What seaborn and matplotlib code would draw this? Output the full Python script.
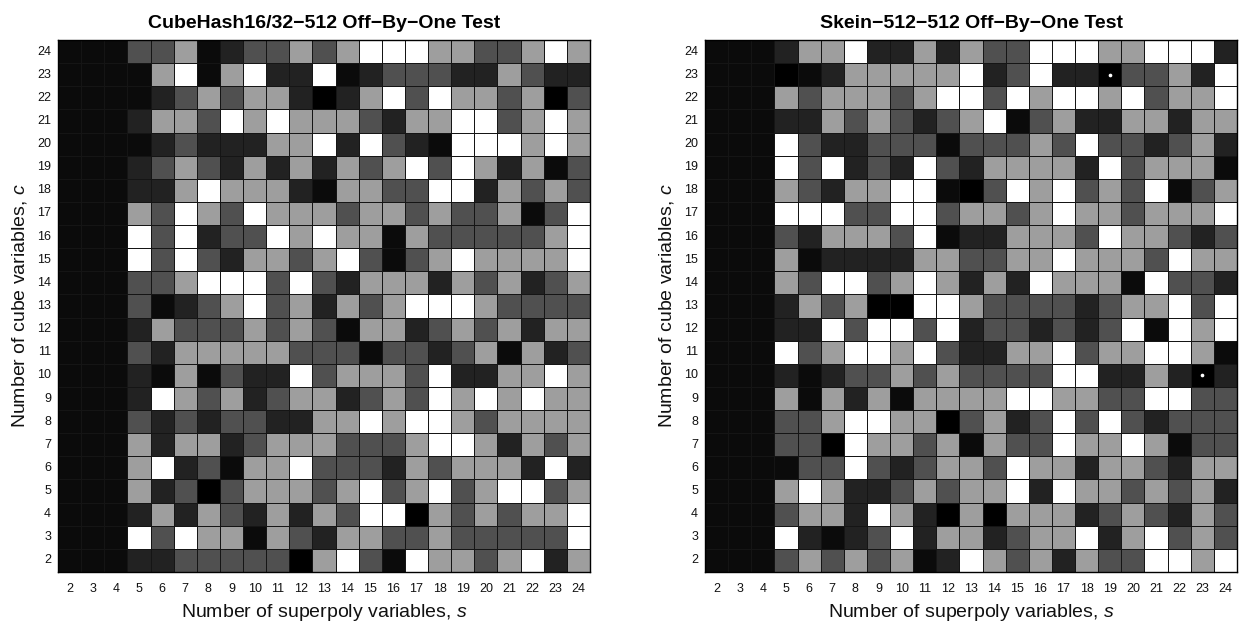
import numpy as np
import pandas as pd
import matplotlib
matplotlib.use("Agg")
import matplotlib.pyplot as plt
from matplotlib.colors import ListedColormap
import seaborn as sns

# ---------------- data ----------------
# superpoly variables s (columns) and cube variables c (rows, top to bottom)
s_values = list(range(2, 25))
c_values = list(range(24, 1, -1))

# gray level codes: K=black, B=near black, D=dark, M=mid-dark, L=light gray, W=white
level_codes = ["K", "B", "D", "M", "L", "W"]
level_colors = ["#000000", "#0b0b0b", "#222222", "#505050", "#9e9e9e", "#ffffff"]

cubehash_rows = [
    "B B B M M L B D M M L M L W W W L L M M L W L",  # 24
    "B B B B L W B L W D D W B D M M M D D L M D D",  # 23
    "B B B B D M L M L L D K D L W M W L L M L K M",  # 22
    "B B B D L L M W L W L L L M D L L W W M L W L",  # 21
    "B B B B D M D D D L L W D W M D B W W W L W L",  # 20
    "B B B D M L M D L D L D L M L W M W L D L B M",  # 19
    "B B B D D L W L L L D B L L M M W W D L M L M",  # 18
    "B B B L M W L M W L L L M L L M L M M L B M W",  # 17
    "B B B W M W D M M W L W L L B L M M M M M L W",  # 16
    "B B B W M W M D L L M L W M B M L W L L L L W",  # 15
    "B B B M M L W W W M W M D L L L D L M L D M L",  # 14
    "B B B M B D M L W M L D L M L W W W L M M M M",  # 13
    "B B B D L M M M L M L M B L L D M L M L D L L",  # 12
    "B B B M D L L L L L M M M B M M D M L B L D M",  # 11
    "B B B D B L B M D D W M L L L M W D D L L W L",  # 10
    "B B B D W L M L D M L L D M L M W L W L W L L",  # 9
    "B B B M D M D M M D D L L W L W W L M L L L L",  # 8
    "B B B L D L L D M L L L M M M L W W L D L M L",  # 7
    "B B B L W D M B L L W M M M D L M L L L D W D",  # 6
    "B B B L D M K M L L L M L W M L W M L W W M L",  # 5
    "B B B D L D L M D L D L M W W K L M L M L L W",  # 4
    "B B B W M W L L B L M D L L M M L M M M M M W",  # 3
    "B B B D D M M M M M K L W M B W L L M L W D L",  # 2
]

skein_rows = [
    "B B B D L L W D D L D L M M W W W L L W W W D",  # 24
    "B B B K B D L L L L L W D M W D D K M M L D W",  # 23
    "B B B L M L L L M L W W M W L W W L W M L L W",  # 22
    "B B B D D L M L M D M L W B M L D D L L D L L",  # 21
    "B B B W M D D M M M B M M M L M W M M D M L D",  # 20
    "B B B W M W D M D W M D L L L L D W M L L L B",  # 19
    "B B B L M D L L W W B K M W L W M L M W B M L",  # 18
    "B B B W W W M M W W M L L M L W L L M L L L W",  # 17
    "B B B M D L L L M W B D D L L L M W L L M D M",  # 16
    "B B B L B D D D D L L M M L L W L L L M W L L",  # 15
    "B B B L M W W M L W L D L D W L L L B W M M D",  # 14
    "B B B D L M L K K W W L M M M M D M L L W M W",  # 13
    "B B B D D W M W W M W D M M D M D M W B W L W",  # 12
    "B B B W M L W W L W M D D L L W M L L W W L B",  # 11
    "B B B D B D M M L M L M M M M W W D D L D K D",  # 10
    "B B B L B L D L B L L L L W W L L M M W W M M",  # 9
    "B B B M M L W W L L K M L D M W M W M D M M M",  # 8
    "B B B M M K W L L M L B L M M W L L W L B M M",  # 7
    "B B B B M M W M D M L L M W L L D L L M D L L",  # 6
    "B B B L W L D D M L M L L W D W L L M L M L D",  # 5
    "B B B M L L D W L D K L K L L L D M L M D L M",  # 4
    "B B B W D B D M W D L L D M L L W D L W M L M",  # 3
    "B B B M L M L M L B D W L M L D L M M W W L W",  # 2
]

# marked cells (white dots) in the Skein chart
skein_dot_s = [19, 23]
skein_dot_c = [23, 10]

titles = ["CubeHash16/32\u2212512 Off\u2212By\u2212One Test",
          "Skein\u2212512\u2212512 Off\u2212By\u2212One Test"]
xlabel = "Number of superpoly variables, $s$"
ylabel = "Number of cube variables, $c$"

# ---------------- build ----------------
def to_frame(rows):
    mat = []
    for r in rows:
        vals = [level_codes.index(t) for t in r.split()]
        assert len(vals) == len(s_values)
        mat.append(vals)
    assert len(mat) == len(c_values)
    return pd.DataFrame(mat, index=c_values, columns=s_values)

sns.set_theme(style="white")
plt.rcParams["font.family"] = ["Liberation Sans", "DejaVu Sans"]
plt.rcParams["mathtext.fontset"] = "custom"
plt.rcParams["mathtext.rm"] = "Liberation Sans"
plt.rcParams["mathtext.it"] = "Liberation Sans:italic"

cmap = ListedColormap(level_colors)

W, H = 1239, 622
fig = plt.figure(figsize=(W / 100, H / 100), dpi=100)
ax1 = fig.add_axes([58 / W, 50 / H, 532 / W, 532 / H])
ax2 = fig.add_axes([705 / W, 50 / H, 532 / W, 532 / H])

for ax, rows, title in [(ax1, cubehash_rows, titles[0]), (ax2, skein_rows, titles[1])]:
    df = to_frame(rows)
    sns.heatmap(df, ax=ax, cmap=cmap, vmin=-0.5, vmax=len(level_colors) - 0.5,
                cbar=False, linewidths=0.7, linecolor="#151515")
    ax.set_title(title, fontsize=14, fontweight="bold", pad=9, color="black")
    ax.set_xlabel(xlabel, fontsize=14, labelpad=5, color="#111111")
    ax.set_ylabel(ylabel, fontsize=14, labelpad=6, color="#111111")
    ax.tick_params(axis="both", length=0, labelsize=9, colors="#111111")
    ax.tick_params(axis="x", pad=8)
    ax.tick_params(axis="y", pad=5)
    plt.setp(ax.get_yticklabels(), rotation=0)
    plt.setp(ax.get_xticklabels(), rotation=0)
    for sp in ax.spines.values():
        sp.set_visible(True)
        sp.set_color("black")
        sp.set_linewidth(1.0)

# white dots on marked cells
dot_x = [s_values.index(s) + 0.5 for s in skein_dot_s]
dot_y = [c_values.index(c) + 0.5 for c in skein_dot_c]
ax2.scatter(dot_x, dot_y, s=7, color="white", zorder=5, linewidths=0)

fig.savefig("out.png", dpi=100)
